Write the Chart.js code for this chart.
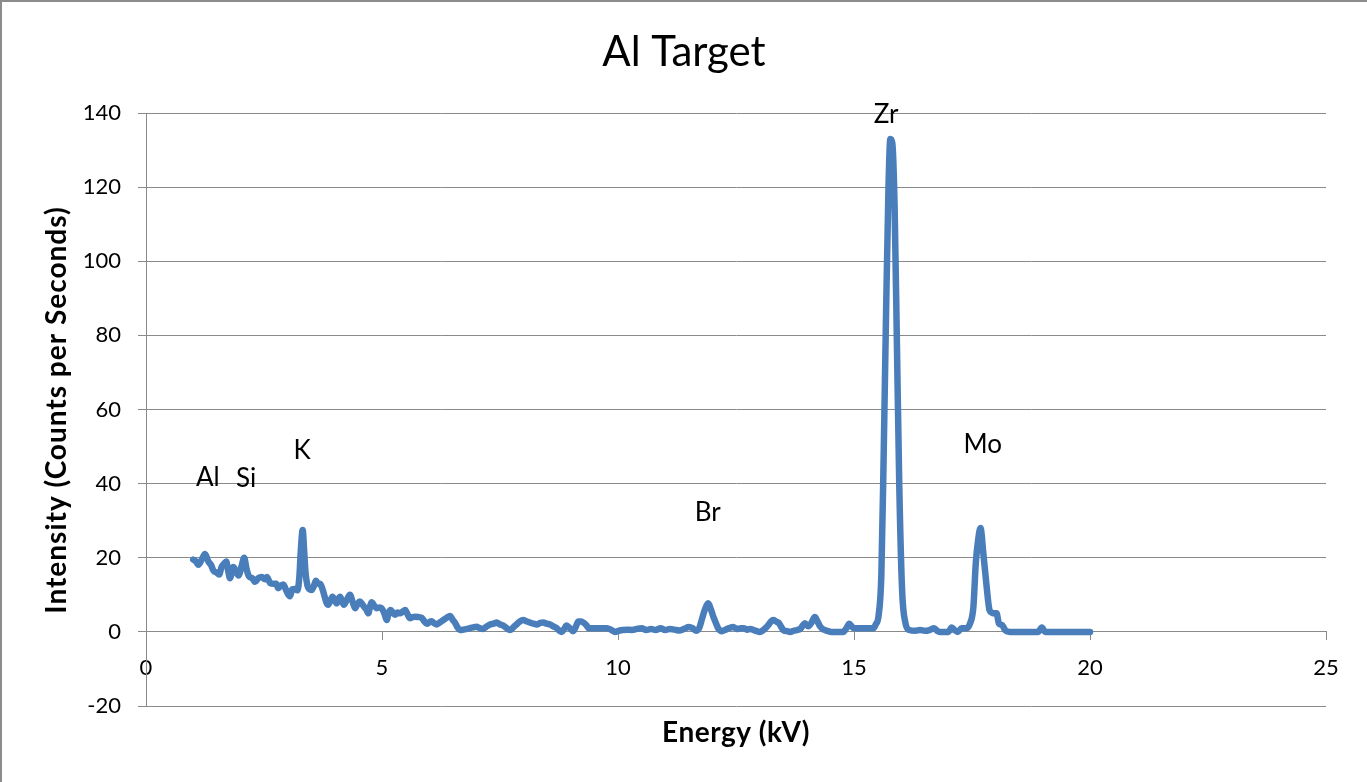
<!DOCTYPE html>
<html>
<head>
<meta charset="utf-8">
<title>Al Target</title>
<script src="https://cdn.jsdelivr.net/npm/chart.js@4.4.0/dist/chart.umd.min.js"></script>
<style>
    html, body { margin: 0; padding: 0; background: #fff; }
    #wrap { width: 1367px; height: 782px; }
</style>
</head>
<body>
<div id="wrap"><canvas id="spectrum" width="1367" height="782"></canvas></div>
<script>
// Energy (kV) and intensity (counts per second)
const energy = [
    1.00, 1.06, 1.11, 1.18, 1.25, 1.32, 1.38, 1.43, 1.50, 1.55, 1.60, 1.66, 1.70, 1.74, 1.78, 1.85, 1.90, 1.96,
    2.03, 2.08, 2.13, 2.18, 2.25, 2.31, 2.38, 2.45, 2.52, 2.56, 2.63, 2.70, 2.76, 2.80, 2.86, 2.91, 2.98,
    3.05, 3.10, 3.15, 3.21, 3.25, 3.28, 3.32, 3.35, 3.38, 3.42, 3.46, 3.51, 3.56, 3.60, 3.65, 3.69, 3.74, 3.77,
    3.82, 3.86, 3.91, 3.95, 4.00, 4.04, 4.08, 4.11, 4.15, 4.19, 4.25, 4.32, 4.38, 4.43, 4.48, 4.53, 4.58, 4.62,
    4.67, 4.71, 4.75, 4.78, 4.84, 4.89, 4.95, 4.99, 5.05, 5.10, 5.14, 5.18, 5.24, 5.28, 5.33, 5.38, 5.44, 5.49,
    5.54, 5.59, 5.65, 5.70, 5.77, 5.84, 5.90, 5.95, 6.00, 6.05, 6.10, 6.16, 6.23, 6.30, 6.37, 6.44, 6.50, 6.55,
    6.60, 6.65, 6.72, 6.80, 6.86, 6.93, 7.00, 7.07, 7.14, 7.21, 7.29, 7.36, 7.43, 7.50, 7.57, 7.64, 7.71, 7.78,
    7.85, 7.92, 7.99, 8.07, 8.14, 8.21, 8.28, 8.35, 8.42, 8.49, 8.56, 8.63, 8.70, 8.76, 8.81, 8.86, 8.91, 8.98,
    9.05, 9.10, 9.16, 9.22, 9.27, 9.33, 9.38, 9.47, 9.55, 9.66, 9.77, 9.86, 9.94, 10.02, 10.10, 10.20, 10.30,
    10.40, 10.50, 10.60, 10.70, 10.80, 10.90, 11.00, 11.10, 11.20, 11.30, 11.40, 11.50, 11.58, 11.65, 11.72,
    11.78, 11.84, 11.91, 11.97, 12.02, 12.08, 12.12, 12.20, 12.28, 12.35, 12.44, 12.52, 12.60, 12.66, 12.74,
    12.80, 12.87, 12.94, 13.00, 13.08, 13.14, 13.19, 13.24, 13.29, 13.35, 13.40, 13.45, 13.50, 13.58, 13.65,
    13.72, 13.79, 13.86, 13.92, 13.96, 14.03, 14.10, 14.17, 14.22, 14.28, 14.33, 14.38, 14.45, 14.52, 14.60,
    14.68, 14.77, 14.84, 14.90, 14.95, 15.00, 15.10, 15.20, 15.30, 15.41, 15.46, 15.52, 15.58, 15.63, 15.68,
    15.73, 15.77, 15.81, 15.86, 15.91, 15.96, 16.02, 16.09, 16.17, 16.30, 16.40, 16.50, 16.60, 16.70, 16.76,
    16.82, 16.90, 17.00, 17.07, 17.13, 17.20, 17.28, 17.33, 17.38, 17.46, 17.53, 17.58, 17.63, 17.68, 17.74,
    17.81, 17.87, 17.92, 17.96, 18.02, 18.07, 18.14, 18.20, 18.23, 18.30, 18.40, 18.50, 18.60, 18.70, 18.80,
    18.90, 18.98, 19.05, 19.20, 19.40, 19.60, 19.80, 20.00
];
const intensity = [
    19.5, 19.0, 18.1, 19.5, 21.0, 19.0, 18.0, 16.5, 16.0, 15.5, 17.5, 18.5, 19.0, 16.5, 14.5, 17.5, 16.5, 15.2,
    18.0, 20.0, 17.0, 15.0, 14.5, 13.5, 14.5, 14.8, 14.2, 14.8, 13.2, 13.0, 13.0, 11.8, 12.5, 12.8, 10.9,
    9.6, 11.5, 11.6, 11.2, 15.0, 22.0, 27.5, 22.0, 16.0, 12.5, 11.5, 11.3, 12.5, 13.8, 13.0, 13.0, 11.5, 10.2,
    8.0, 7.3, 8.5, 9.5, 8.5, 7.7, 9.0, 9.5, 8.5, 7.3, 8.5, 10.0, 8.0, 6.4, 7.5, 8.2, 7.5, 6.8,
    6.0, 5.0, 7.0, 8.0, 7.0, 6.4, 6.6, 6.4, 5.0, 3.2, 5.0, 5.9, 5.0, 4.6, 5.2, 5.0, 5.5, 5.9,
    4.8, 3.7, 4.0, 4.1, 4.0, 3.8, 2.8, 2.2, 2.6, 2.9, 2.4, 2.0, 2.6, 3.2, 3.8, 4.3, 3.2, 2.4,
    1.2, 0.5, 0.6, 0.8, 1.0, 1.2, 1.4, 1.0, 0.8, 1.4, 2.0, 2.2, 2.5, 2.0, 1.7, 1.0, 0.5, 1.2,
    2.0, 2.8, 3.2, 2.8, 2.5, 2.2, 2.0, 2.4, 2.5, 2.2, 2.0, 1.5, 1.0, 0.3, 0.0, 0.8, 1.7, 1.0,
    0.2, 1.2, 2.8, 2.8, 2.5, 1.8, 1.0, 1.0, 1.0, 1.0, 1.0, 0.5, 0.0, 0.3, 0.5, 0.6, 0.5,
    0.8, 1.0, 0.5, 0.8, 0.5, 1.0, 0.5, 0.8, 0.6, 0.4, 0.8, 1.3, 1.0, 0.3, 1.0,
    3.5, 6.0, 7.7, 6.0, 4.1, 2.2, 1.0, 0.2, 0.6, 1.0, 1.3, 0.8, 1.0, 1.0, 0.6,
    0.8, 0.5, 0.2, 0.0, 0.5, 1.2, 1.9, 2.8, 3.2, 2.8, 2.5, 1.5, 0.5, 0.2, 0.0,
    0.3, 0.5, 0.8, 1.8, 2.3, 1.5, 2.5, 4.0, 3.0, 1.5, 0.8, 0.5, 0.2, 0.0, 0.0,
    0.0, 0.0, 1.0, 2.2, 1.5, 1.0, 1.0, 1.0, 1.0, 1.0, 2.0, 4.3, 15.6, 48.7, 86.5,
    119.6, 133.0, 132.0, 115.0, 77.0, 39.0, 11.0, 2.4, 0.5, 0.3, 0.5, 0.3, 0.5, 1.0, 0.3,
    0.0, 0.0, 0.0, 1.2, 0.5, 0.0, 1.0, 1.0, 1.0, 2.3, 6.8, 18.5, 24.8, 28.0, 21.2,
    12.2, 5.9, 5.2, 5.0, 5.0, 2.3, 1.8, 0.5, 0.2, 0.0, 0.0, 0.0, 0.0, 0.0, 0.0,
    0.0, 1.2, 0.0, 0.0, 0.0, 0.0, 0.0, 0.0
];

// Element labels placed at data coordinates
const peakNames = ['Al', 'Si', 'K', 'Br', 'Zr', 'Mo'];
const peakLabelX = [1.31, 2.12, 3.31, 11.9, 15.68, 17.73];
const peakLabelY = [41.5, 41.3, 48.8, 32.1, 139.5, 50.5];

const xTicks = [0, 5, 10, 15, 20, 25];
const yTicks = [-20, 0, 20, 40, 60, 80, 100, 120, 140];

const FONT = 'Lato, "Open Sans", sans-serif';
const GRID = '#8a8a8a';

const points = energy.map((e, i) => ({ x: e, y: intensity[i] }));

// Title, axis titles, element labels and the outer frame
const textLayer = {
    id: 'textLayer',
    afterDraw(chart) {
        const ctx = chart.ctx;
        const area = chart.chartArea;
        const xs = chart.scales.x;
        const ys = chart.scales.y;
        ctx.save();

        // frame
        ctx.strokeStyle = '#8c8c8c';
        ctx.lineWidth = 2;
        ctx.beginPath();
        ctx.moveTo(1, 782);
        ctx.lineTo(1, 1);
        ctx.lineTo(1367, 1);
        ctx.stroke();

        ctx.fillStyle = '#000';
        ctx.textAlign = 'center';
        ctx.textBaseline = 'middle';

        ctx.font = '42px ' + FONT;
        ctx.fillText('Al Target', (area.left + area.right) / 2 - 52, 52);

        ctx.font = 'bold 28px ' + FONT;
        ctx.letterSpacing = '0.5px';
        ctx.fillText('Energy (kV)', (area.left + area.right) / 2, 733);

        ctx.letterSpacing = '1px';
        ctx.save();
        ctx.translate(57, 410);
        ctx.rotate(-Math.PI / 2);
        ctx.fillText('Intensity (Counts per Seconds)', 0, 0);
        ctx.restore();
        ctx.letterSpacing = '0px';

        ctx.font = '26px ' + FONT;
        peakNames.forEach((name, i) => {
            ctx.fillText(name, xs.getPixelForValue(peakLabelX[i]), ys.getPixelForValue(peakLabelY[i]));
        });
        ctx.restore();
    }
};

new Chart(document.getElementById('spectrum').getContext('2d'), {
    type: 'scatter',
    data: {
        datasets: [{
            label: 'Al Target',
            data: points,
            showLine: true,
            borderColor: '#4a7ebb',
            backgroundColor: '#4a7ebb',
            borderWidth: 6.5,
            borderCapStyle: 'round',
            borderJoinStyle: 'round',
            cubicInterpolationMode: 'monotone',
            pointRadius: 0,
            pointHoverRadius: 0
        }]
    },
    options: {
        responsive: false,
        devicePixelRatio: 1,
        animation: false,
        layout: { padding: { left: 0, top: 113, right: 41, bottom: 76 } },
        plugins: {
            legend: { display: false },
            tooltip: { enabled: false },
            title: { display: false }
        },
        scales: {
            x: {
                type: 'linear',
                position: { y: 0 },
                min: 0,
                max: 25,
                afterBuildTicks: scale => { scale.ticks = xTicks.map(v => ({ value: v })); },
                grid: { display: true, drawOnChartArea: false, drawTicks: true, tickLength: 8, color: GRID },
                border: { display: true, color: GRID, width: 1 },
                ticks: { color: '#000', font: { family: FONT, size: 22 }, padding: 15, maxRotation: 0 }
            },
            y: {
                type: 'linear',
                min: -20,
                max: 140,
                afterBuildTicks: scale => { scale.ticks = yTicks.map(v => ({ value: v })); },
                afterFit: scale => { scale.width = 146; },
                grid: { color: GRID, lineWidth: 1, drawTicks: true, tickLength: 8 },
                border: { display: true, color: GRID, width: 1 },
                ticks: { color: '#000', font: { family: FONT, size: 22 }, padding: 17 }
            }
        }
    },
    plugins: [textLayer]
});
</script>
</body>
</html>
